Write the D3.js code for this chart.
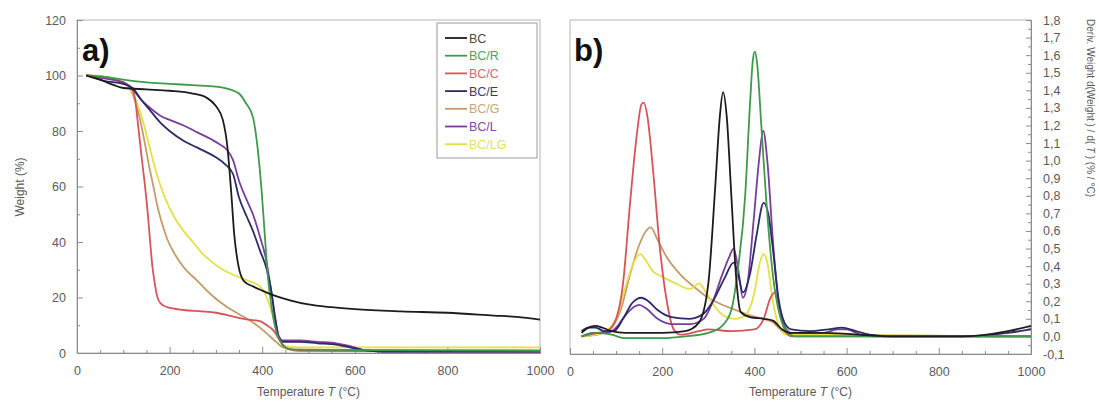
<!DOCTYPE html>
<html><head><meta charset="utf-8">
<script src="https://cdn.jsdelivr.net/npm/d3@7"></script>
<style>
body{margin:0;background:#fff}
text{font-family:"Liberation Sans",Arial,sans-serif}
</style>
</head><body>
<svg id="c" width="1099" height="409"></svg>
<script>
// ---------- data ----------
const seriesNames = ["BC","BC/R","BC/C","BC/E","BC/G","BC/L","BC/LG"];
const seriesColors = ["#1c1c1c","#3f9a4a","#d9535b","#2c2b68","#c69a6a","#7a3d98","#e6df45"];
const legendTextColors = ["#4a4a4a","#4aa357","#e0636a","#3b3a78","#caa37a","#7e48a0","#e3e06a"];

// TGA: [temperature °C, weight %]
const tgaBC = [[20,100],[50,98.5],[80,96.5],[100,95.5],[150,95],[200,94.5],[250,93.5],[280,92],[300,89],[315,84],[325,74],[333,58],[340,42],[348,32],[360,26],[380,24],[400,22.5],[430,20.5],[460,19],[500,17.5],[550,16.5],[600,15.8],[700,15],[800,14.5],[900,13.5],[950,13],[1000,12]];
const tgaBCR = [[20,100],[60,99.5],[100,98.5],[150,97.5],[200,97],[250,96.5],[300,96],[330,95],[350,93.5],[365,90],[380,85],[390,74],[398,60],[405,44],[412,28],[420,17],[430,8],[440,4],[450,2],[470,1.2],[600,1],[1000,0.8]];
const tgaBCC = [[20,100],[60,99],[100,97.5],[115,96],[125,92],[132,82],[140,70],[147,60],[153,50],[158,40],[163,31],[168,25],[173,20.5],[180,18],[195,16.5],[230,15.5],[270,15],[300,14.5],[340,13],[370,12],[395,11.5],[410,10],[425,8],[440,4],[455,1.5],[480,0.8],[1000,0.5]];
const tgaBCE = [[20,100],[60,98],[100,97],[120,95.5],[140,91],[160,87],[180,83],[200,80],[230,76.5],[260,74],[300,70.5],[320,68],[337,64.5],[350,56],[367,49],[380,44],[395,37],[410,30],[420,22],[428,12],[435,6],[445,4],[480,4],[520,3.5],[560,3],[590,2],[620,1],[660,0.5],[1000,0.5]];
const tgaBCG = [[20,100],[60,99.5],[100,97.5],[115,95],[125,91],[135,85],[145,77],[155,68],[165,60],[175,52],[185,46],[195,41],[210,36],[230,31],[260,26],[290,21],[320,17],[350,14],[380,11],[410,7],[430,4],[445,2],[470,1.2],[1000,1]];
const tgaBCL = [[20,100],[60,99],[100,97.5],[120,95],[140,91],[160,88],[180,85.5],[200,84],[230,82],[260,79.5],[290,77],[310,75],[325,73],[337,69.5],[350,62],[367,55],[380,50],[395,42],[408,34],[418,24],[428,13],[436,6],[445,4.5],[480,4.5],[520,4],[560,3.5],[590,2.5],[620,1],[660,0.5],[1000,0.5]];
const tgaBCLG = [[20,100],[60,99.5],[100,97.5],[115,95],[130,90],[145,82],[160,72],[175,63],[190,56],[210,49],[230,44],[250,40],[270,36],[290,33],[310,30.5],[340,28],[370,26],[395,24],[410,20],[420,15],[430,9],[440,4],[450,2.5],[480,2],[1000,2]];

// DTG: [temperature °C, deriv. weight %/°C]
const dtgBC = [[25,0.02],[40,0.05],[55,0.06],[70,0.05],[90,0.03],[120,0.02],[200,0.02],[250,0.03],[280,0.08],[300,0.3],[315,0.85],[325,1.25],[332,1.39],[340,1.25],[350,0.8],[360,0.35],[370,0.14],[390,0.11],[420,0.1],[440,0.09],[460,0.04],[480,0.02],[550,0.02],[700,0.0],[850,0.0],[950,0.03],[1000,0.06]];
const dtgBCR = [[25,0.0],[60,0.02],[90,0.01],[120,-0.01],[200,-0.01],[250,0.0],[300,0.02],[330,0.06],[350,0.15],[365,0.4],[380,0.8],[390,1.3],[397,1.58],[401,1.62],[406,1.55],[415,1.2],[425,0.8],[440,0.35],[455,0.12],[470,0.03],[490,0.0],[1000,0.0]];
const dtgBCC = [[25,0.0],[60,0.02],[80,0.03],[100,0.1],[115,0.3],[130,0.75],[145,1.15],[155,1.32],[160,1.33],[168,1.25],[180,0.95],[195,0.5],[210,0.2],[225,0.04],[240,0.01],[280,0.03],[300,0.04],[350,0.03],[400,0.04],[420,0.1],[435,0.22],[445,0.25],[455,0.15],[465,0.04],[480,0.0],[1000,0.0]];
const dtgBCE = [[25,0.03],[40,0.05],[55,0.05],[75,0.03],[95,0.03],[115,0.1],[135,0.19],[155,0.22],[170,0.2],[190,0.15],[220,0.11],[260,0.1],[290,0.13],[310,0.2],[335,0.33],[355,0.42],[365,0.35],[375,0.25],[390,0.35],[405,0.58],[420,0.76],[430,0.7],[440,0.5],[452,0.22],[465,0.08],[480,0.04],[520,0.03],[560,0.04],[590,0.05],[620,0.03],[650,0.01],[700,0.0],[850,0.0],[950,0.02],[1000,0.04]];
const dtgBCG = [[25,0.0],[60,0.01],[90,0.05],[110,0.15],[130,0.35],[150,0.52],[165,0.6],[175,0.62],[190,0.55],[210,0.45],[240,0.35],[270,0.28],[300,0.22],[330,0.18],[360,0.15],[390,0.12],[420,0.1],[440,0.08],[460,0.03],[480,0.01],[1000,0.0]];
const dtgBCL = [[25,0.0],[50,0.02],[80,0.02],[100,0.05],[120,0.12],[140,0.17],[150,0.18],[165,0.16],[190,0.1],[220,0.07],[260,0.07],[290,0.1],[310,0.2],[330,0.35],[345,0.45],[355,0.5],[365,0.38],[375,0.22],[385,0.3],[398,0.65],[410,1.0],[419,1.17],[428,1.0],[440,0.55],[452,0.2],[465,0.06],[480,0.02],[550,0.02],[580,0.04],[600,0.04],[630,0.01],[660,0.0],[1000,0.0]];
const dtgBCLG = [[25,0.0],[70,0.02],[100,0.1],[120,0.28],[140,0.43],[152,0.47],[165,0.43],[180,0.37],[200,0.34],[230,0.3],[260,0.27],[280,0.3],[295,0.25],[320,0.15],[340,0.11],[360,0.1],[380,0.12],[400,0.25],[412,0.42],[420,0.47],[428,0.42],[440,0.2],[455,0.05],[470,0.01],[1000,0.0]];

const tgaData = [tgaBC,tgaBCR,tgaBCC,tgaBCE,tgaBCG,tgaBCL,tgaBCLG];
const dtgData = [dtgBC,dtgBCR,dtgBCC,dtgBCE,dtgBCG,dtgBCL,dtgBCLG];

const tempTicks = [0,200,400,600,800,1000];
const tempMinorTicks = [50,100,150,250,300,350,450,500,550,650,700,750,850,900,950];
const weightTicks = [0,20,40,60,80,100,120];
const weightMinorTicks = [10,30,50,70,90,110];
const derivTicks = [-0.1,0.0,0.1,0.2,0.3,0.4,0.5,0.6,0.7,0.8,0.9,1.0,1.1,1.2,1.3,1.4,1.5,1.6,1.7,1.8];
const derivMinorTicks = [-0.05,0.05,0.15,0.25,0.35,0.45,0.55,0.65,0.75,0.85,0.95,1.05,1.15,1.25,1.35,1.45,1.55,1.65,1.75];

// ---------- layout ----------
const svg = d3.select("#c");
svg.append("rect").attr("width",1099).attr("height",409).attr("fill","#fff");
const A = {left:77,right:540,top:20,bottom:353};
const B = {left:570,right:1031,top:20,bottom:354};
const axisColor = "#8c8c8c", labelColor = "#5a5a5a", fs = 12.5;

const xA = d3.scaleLinear().domain([0,1000]).range([A.left,A.right]);
const yA = d3.scaleLinear().domain([0,120]).range([A.bottom,A.top]);
const xB = d3.scaleLinear().domain([0,1000]).range([B.left,B.right]);
const yB = d3.scaleLinear().domain([-0.1,1.8]).range([B.bottom,B.top]);
const intFmt = d3.format("d");

function styleAxis(g){
  g.selectAll(".domain").attr("stroke",axisColor);
  g.selectAll(".tick line").attr("stroke",axisColor);
  g.selectAll(".tick text").attr("fill",labelColor).attr("font-size",fs)
   .attr("font-family","'Liberation Sans',Arial,sans-serif");
}
function frame(P){
  svg.append("rect").attr("x",P.left).attr("y",P.top)
    .attr("width",P.right-P.left).attr("height",P.bottom-P.top)
    .attr("fill","none").attr("stroke","#b5b5b5").attr("stroke-width",1);
}
frame(A); frame(B);

// panel a axes
svg.append("g").attr("transform",`translate(0,${A.bottom})`)
  .call(d3.axisBottom(xA).tickValues(tempMinorTicks).tickSize(-3).tickFormat(""))
  .call(styleAxis);
svg.append("g").attr("transform",`translate(0,${A.bottom})`)
  .call(d3.axisBottom(xA).tickValues(tempTicks).tickSizeInner(-6).tickSizeOuter(0).tickPadding(13).tickFormat(intFmt))
  .call(styleAxis);
svg.append("g").attr("transform",`translate(${A.left},0)`)
  .call(d3.axisLeft(yA).tickValues(weightMinorTicks).tickSize(-3).tickFormat(""))
  .call(styleAxis);
svg.append("g").attr("transform",`translate(${A.left},0)`)
  .call(d3.axisLeft(yA).tickValues(weightTicks).tickSizeInner(-6).tickSizeOuter(0).tickPadding(11).tickFormat(intFmt))
  .call(styleAxis);

// panel b axes
svg.append("g").attr("transform",`translate(0,${B.bottom})`)
  .call(d3.axisBottom(xB).tickValues(tempMinorTicks).tickSize(-3).tickFormat(""))
  .call(styleAxis);
svg.append("g").attr("transform",`translate(0,${B.bottom})`)
  .call(d3.axisBottom(xB).tickValues(tempTicks).tickSizeInner(-6).tickSizeOuter(0).tickPadding(13).tickFormat(intFmt))
  .call(styleAxis);
svg.append("g").attr("transform",`translate(${B.right},0)`)
  .call(d3.axisRight(yB).tickValues(derivMinorTicks).tickSize(-3).tickFormat(""))
  .call(styleAxis);
svg.append("g").attr("transform",`translate(${B.right},0)`)
  .call(d3.axisRight(yB).tickValues(derivTicks).tickSizeInner(-5).tickSizeOuter(0).tickPadding(12)
    .tickFormat(d => d3.format(".1f")(d).replace("−","-").replace(".",",")))
  .call(styleAxis);

// clip paths
const defs = svg.append("defs");
defs.append("clipPath").attr("id","clipA").append("rect")
  .attr("x",A.left).attr("y",A.top).attr("width",A.right-A.left).attr("height",A.bottom-A.top);
defs.append("clipPath").attr("id","clipB").append("rect")
  .attr("x",B.left).attr("y",B.top).attr("width",B.right-B.left).attr("height",B.bottom-B.top);

// curves
const lineA = d3.line().x(d=>xA(d[0])).y(d=>yA(d[1])).curve(d3.curveMonotoneX);
const lineB = d3.line().x(d=>xB(d[0])).y(d=>yB(d[1])).curve(d3.curveMonotoneX);
const drawOrder = [4,6,2,5,3,1,0];
const gA = svg.append("g").attr("clip-path","url(#clipA)");
const gB = svg.append("g").attr("clip-path","url(#clipB)");
drawOrder.forEach(i=>{
  gA.append("path").attr("d",lineA(tgaData[i])).attr("fill","none")
    .attr("stroke",seriesColors[i]).attr("stroke-width",1.8).attr("stroke-linejoin","round");
  gB.append("path").attr("d",lineB(dtgData[i])).attr("fill","none")
    .attr("stroke",seriesColors[i]).attr("stroke-width",1.8).attr("stroke-linejoin","round");
});

// legend
const lg = svg.append("g");
lg.append("rect").attr("x",437).attr("y",23).attr("width",100).attr("height",135)
  .attr("fill","#fff").attr("stroke","#9a9a9a").attr("stroke-width",1);
seriesNames.forEach((n,i)=>{
  const y = 38 + i*17.7;
  lg.append("line").attr("x1",445).attr("x2",467).attr("y1",y).attr("y2",y)
    .attr("stroke",seriesColors[i]).attr("stroke-width",1.8);
  lg.append("text").attr("x",469).attr("y",y).attr("dy","0.36em")
    .attr("font-size",12.5).attr("fill",legendTextColors[i]).text(n);
});

// panel letters
svg.append("text").attr("x",82).attr("y",61).attr("font-size",31).attr("font-weight","bold")
  .attr("fill","#111").text("a)");
svg.append("text").attr("x",574).attr("y",61).attr("font-size",31).attr("font-weight","bold")
  .attr("fill","#111").text("b)");

// axis titles
function tempTitle(cx){
  const t = svg.append("text").attr("x",cx).attr("y",396).attr("text-anchor","middle")
    .attr("font-size",12).attr("fill",labelColor);
  t.append("tspan").text("Temperature  ");
  t.append("tspan").attr("font-style","italic").text("T");
  t.append("tspan").text("  (°C)");
}
tempTitle((A.left+A.right)/2);
tempTitle((B.left+B.right)/2);

svg.append("text").attr("transform","translate(24,187) rotate(-90)")
  .attr("text-anchor","middle").attr("font-size",12).attr("fill",labelColor).text("Weight (%)");

const rt = svg.append("text").attr("transform","translate(1087,108) rotate(90)")
  .attr("text-anchor","middle").attr("font-size",10).attr("fill",labelColor);
rt.append("tspan").text("Deriv. Weight d(Weight ) / d( ");
rt.append("tspan").attr("font-style","italic").text("T");
rt.append("tspan").text(" )  (% / °C)");
</script>
</body></html>
